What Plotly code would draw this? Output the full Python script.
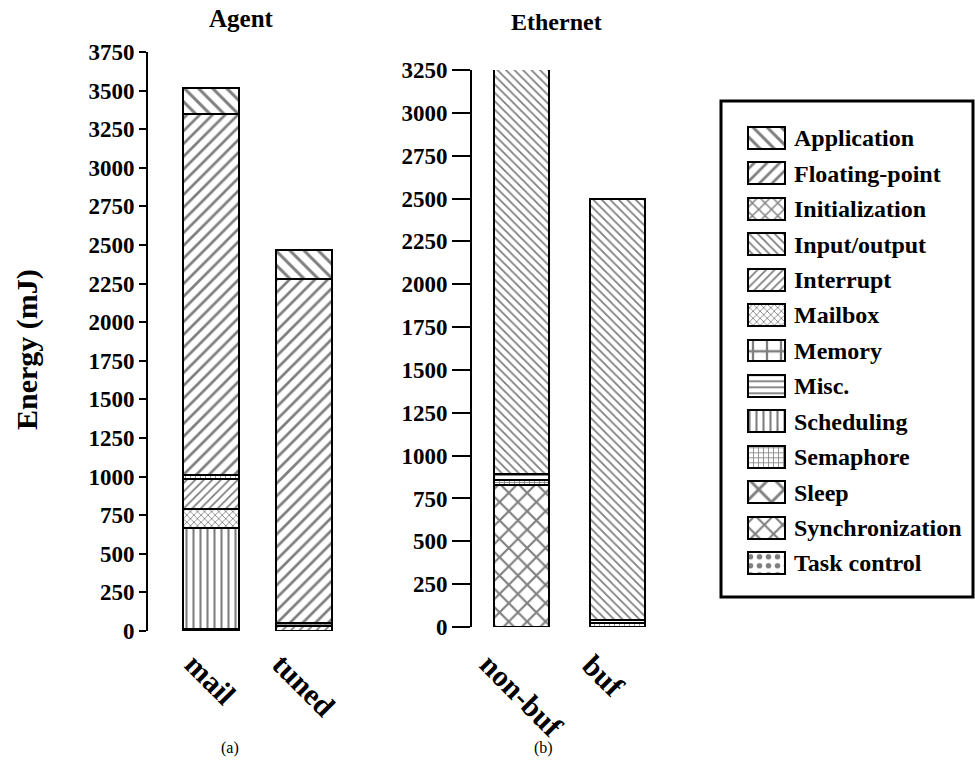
import plotly.graph_objects as go

W, H = 975, 768
FONT = "Liberation Serif"

# ---- data -------------------------------------------------------------
categories = ["Application", "Floating-point", "Initialization", "Input/output",
              "Interrupt", "Mailbox", "Memory", "Misc.", "Scheduling",
              "Semaphore", "Sleep", "Synchronization", "Task control"]

# (a) Agent: stacking order bottom -> top, energy in mJ
agent_runs = ["mail", "tuned"]
agent_order = ["Misc.", "Scheduling", "Mailbox", "Interrupt", "Semaphore",
               "Floating-point", "Application"]
agent_mail = [15, 650, 125, 195, 25, 2340, 170]
agent_tuned = [0, 0, 0, 30, 25, 2225, 190]

# (b) Ethernet
eth_runs = ["non-buf", "buf"]
eth_order = ["Synchronization", "Semaphore", "Misc.", "Input/output"]
eth_nonbuf = [830, 30, 35, 2360]
eth_buf = [0, 25, 15, 2455]

# ---- styling ----------------------------------------------------------
PATTERNS = {
    "Application": ("\\", 10),
    "Floating-point": ("/", 9),
    "Initialization": ("x", 9),
    "Input/output": ("\\", 6),
    "Interrupt": ("/", 6),
    "Mailbox": ("x", 5),
    "Memory": ("+", 14),
    "Misc.": ("-", 6),
    "Scheduling": ("|", 7),
    "Semaphore": ("+", 5),
    "Sleep": ("x", 18),
    "Synchronization": ("x", 13),
    "Task control": (".", 9),
}
SOLIDITY = 0.3
LABEL_XSHIFT = {"buf": -14}


def pattern(cat):
    shape, size = PATTERNS[cat]
    return dict(shape=shape, size=size, solidity=SOLIDITY,
                fgcolor="black", bgcolor="white", fillmode="overlay")


def px_x(p):
    return p / W


def px_y(p):
    return 1 - p / H


fig = go.Figure()

for i, cat in enumerate(agent_order):
    vals = [agent_mail[i], agent_tuned[i]]
    fig.add_trace(go.Bar(
        x=agent_runs, y=[v if v else None for v in vals], name=cat,
        xaxis="x", yaxis="y", width=0.6, showlegend=False,
        marker=dict(color="white", pattern=pattern(cat),
                    line=dict(color="black", width=2)),
    ))

for i, cat in enumerate(eth_order):
    vals = [eth_nonbuf[i], eth_buf[i]]
    fig.add_trace(go.Bar(
        x=eth_runs, y=[v if v else None for v in vals], name=cat,
        xaxis="x2", yaxis="y2", width=0.575, showlegend=False,
        marker=dict(color="white", pattern=pattern(cat),
                    line=dict(color="black", width=2)),
    ))

# key: one swatch per category, labels on the right-hand axis
fig.add_trace(go.Bar(
    y=categories, x=[1] * len(categories), orientation="h",
    xaxis="x3", yaxis="y3", width=0.62, showlegend=False,
    marker=dict(color="white",
                pattern=dict(shape=[PATTERNS[c][0] for c in categories],
                             size=[PATTERNS[c][1] for c in categories],
                             solidity=SOLIDITY, fgcolor="black",
                             bgcolor="white", fillmode="overlay"),
                line=dict(color="black", width=2)),
))

tickfont = dict(family=FONT, size=23, color="black", weight="bold")
yax_common = dict(showline=True, linecolor="black", linewidth=2,
                  ticks="outside", tickwidth=2, tickcolor="black",
                  showgrid=False, zeroline=False, dtick=250, tickfont=tickfont,
                  fixedrange=True, automargin=False)
xax_common = dict(type="category", showline=False, ticks="",
                  showticklabels=False, showgrid=False, zeroline=False,
                  automargin=False)

fig.update_layout(
    width=W, height=H, autosize=False,
    margin=dict(l=0, r=0, t=0, b=0, pad=0, autoexpand=False),
    paper_bgcolor="white", plot_bgcolor="white",
    barmode="stack", showlegend=False,
    xaxis=dict(domain=[px_x(148), px_x(351)], range=[-0.672, 1.5],
               anchor="y", **xax_common),
    yaxis=dict(domain=[px_y(631), px_y(52)], range=[0, 3750],
               anchor="x", ticklen=7, **yax_common),
    xaxis2=dict(domain=[px_x(472), px_x(665.5)], range=[-0.516, 1.5],
                anchor="y2", **xax_common),
    yaxis2=dict(domain=[px_y(627), px_y(70)], range=[0, 3250],
                anchor="x2", ticklen=18, **yax_common),
    xaxis3=dict(domain=[px_x(746), px_x(787)], range=[-0.05, 1.05],
                anchor="y3", visible=False, automargin=False),
    yaxis3=dict(domain=[px_y(580.7), px_y(120.3)], type="category",
                autorange="reversed", side="right", anchor="x3",
                showline=False, ticks="", showgrid=False, zeroline=False,
                ticklabelstandoff=6, automargin=False,
                tickfont=dict(family=FONT, size=24, color="black",
                              weight="bold")),
)

# key frame
fig.add_shape(type="rect", xref="paper", yref="paper",
              x0=px_x(721), x1=px_x(973), y0=px_y(597), y1=px_y(101),
              line=dict(color="black", width=3), fillcolor="rgba(0,0,0,0)")

bold = lambda s: dict(family=FONT, size=s, color="black", weight="bold")
plain = lambda s: dict(family=FONT, size=s, color="black")


def note(text, x, y, font, **kw):
    fig.add_annotation(text=text, x=px_x(x), y=px_y(y), xref="paper",
                       yref="paper", xanchor="center", yanchor="middle",
                       showarrow=False, font=font, **kw)


# panel titles and captions
note("Agent", 241, 18, bold(25))
note("Ethernet", 556, 22, bold(24))
note("(a)", 230, 748, plain(16))
note("(b)", 543, 748, plain(16))
note("Energy (mJ)", 27, 350, bold(30), textangle=-90)

# slanted run labels under each bar
for xref, runs in (("x", agent_runs), ("x2", eth_runs)):
    for r in runs:
        fig.add_annotation(text=r, x=r, xref=xref, y=px_y(645), yref="paper",
                           xanchor="center", yanchor="top", showarrow=False,
                           xshift=LABEL_XSHIFT.get(r, 0),
                           textangle=45, font=bold(30))

fig.write_html("out.html")
